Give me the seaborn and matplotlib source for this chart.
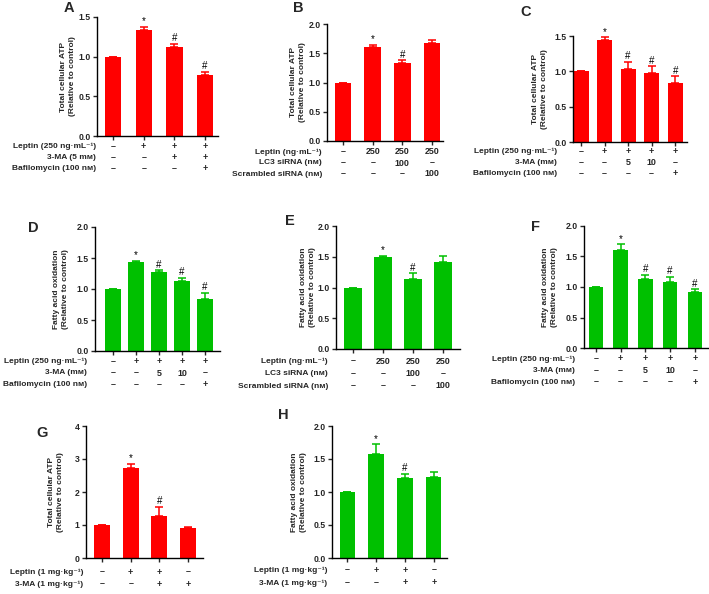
import matplotlib
matplotlib.use("Agg")
import matplotlib.pyplot as plt
import seaborn as sns
import numpy as np
import pandas as pd

sns.set_style("ticks")
plt.rcParams["font.family"] = ["Liberation Sans", "DejaVu Sans"]
plt.rcParams["font.weight"] = "bold"

# ---------------- data ----------------
RED = "#FF0000"
GREEN = "#00C000"
ATP_LABEL = "Total cellular ATP\n(Relative to control)"
FAO_LABEL = "Fatty acid oxidation\n(Relative to control)"

a_vals = [1.00, 1.34, 1.12, 0.77]
a_errs = [0.00, 0.04, 0.04, 0.04]
a_marks = ["", "*", "#", "#"]
a_rows = ["Leptin (250 ng·mL⁻¹)", "3-MA (5 mм)", "Bafilomycin (100 nм)"]
a_cells = [["–", "+", "+", "+"], ["–", "–", "+", "+"], ["–", "–", "–", "+"]]

b_vals = [1.00, 1.61, 1.33, 1.67]
b_errs = [0.00, 0.03, 0.05, 0.05]
b_marks = ["", "*", "#", ""]
b_rows = ["Leptin (ng·mL⁻¹)", "LC3 siRNA (nм)", "Scrambled siRNA (nм)"]
b_cells = [["–", "250", "250", "250"], ["–", "–", "100", "–"], ["–", "–", "–", "100"]]

c_vals = [1.00, 1.45, 1.04, 0.97, 0.84]
c_errs = [0.00, 0.03, 0.09, 0.10, 0.09]
c_marks = ["", "*", "#", "#", "#"]
c_rows = ["Leptin (250 ng·mL⁻¹)", "3-MA (mм)", "Bafilomycin (100 nм)"]
c_cells = [["–", "+", "+", "+", "+"], ["–", "–", "5", "10", "–"], ["–", "–", "–", "–", "+"]]

d_vals = [1.00, 1.43, 1.28, 1.13, 0.84]
d_errs = [0.00, 0.02, 0.02, 0.05, 0.10]
d_marks = ["", "*", "#", "#", "#"]
d_rows = ["Leptin (250 ng·mL⁻¹)", "3-MA (mм)", "Bafilomycin (100 nм)"]
d_cells = [["–", "+", "+", "+", "+"], ["–", "–", "5", "10", "–"], ["–", "–", "–", "–", "+"]]

e_vals = [1.00, 1.49, 1.14, 1.42]
e_errs = [0.00, 0.03, 0.09, 0.10]
e_marks = ["", "*", "#", ""]
e_rows = ["Leptin (ng·mL⁻¹)", "LC3 siRNA (nм)", "Scrambled siRNA (nм)"]
e_cells = [["–", "250", "250", "250"], ["–", "–", "100", "–"], ["–", "–", "–", "100"]]

f_vals = [1.00, 1.60, 1.13, 1.09, 0.91]
f_errs = [0.00, 0.10, 0.07, 0.08, 0.05]
f_marks = ["", "*", "#", "#", "#"]
f_rows = ["Leptin (250 ng·mL⁻¹)", "3-MA (mм)", "Bafilomycin (100 nм)"]
f_cells = [["–", "+", "+", "+", "+"], ["–", "–", "5", "10", "–"], ["–", "–", "–", "–", "+"]]

g_vals = [1.00, 2.73, 1.27, 0.92]
g_errs = [0.00, 0.13, 0.27, 0.02]
g_marks = ["", "*", "#", ""]
g_rows = ["Leptin (1 mg·kg⁻¹)", "3-MA (1 mg·kg⁻¹)"]
g_cells = [["–", "+", "+", "–"], ["–", "–", "+", "+"]]

h_vals = [1.00, 1.58, 1.21, 1.23]
h_errs = [0.00, 0.14, 0.07, 0.07]
h_marks = ["", "*", "#", ""]
h_rows = ["Leptin (1 mg·kg⁻¹)", "3-MA (1 mg·kg⁻¹)"]
h_cells = [["–", "+", "+", "–"], ["–", "–", "+", "+"]]

# ---------------- layout ----------------
W, H = 709, 594
fig = plt.figure(figsize=(W / 100, H / 100), dpi=100)

FS_TICK = 6.2
FS_ROW = 6.0
FS_CELL = 6.4
FS_YLAB = 6.0
FS_LETTER = 10.5


def panel(letter, vals, errs, marks, rows, cells, color, ylabel, ymax, ystep,
          box, xlim, width, letter_xy, ylab_dx, row_dy, row_gap, label_right, int_ticks=False):
    left, right, top, bottom = box
    ax = fig.add_axes([left / W, 1 - bottom / H, (right - left) / W, (bottom - top) / H])
    n = len(vals)
    df = pd.DataFrame({"grp": [str(i) for i in range(n)], "val": vals})
    sns.barplot(data=df, x="grp", y="val", color=color, width=width, errorbar=None,
                saturation=1, ax=ax, linewidth=0)
    idx = np.arange(n)
    errs = np.asarray(errs)
    ax.errorbar(idx, vals, yerr=[np.zeros(n), errs], fmt="none", ecolor=color,
                elinewidth=1.1, capsize=3.2, capthick=1.1)
    for i in range(n):
        if marks[i]:
            ax.annotate(marks[i], xy=(i, vals[i] + errs[i]), xytext=(0, 0.5),
                        textcoords="offset points", ha="center", va="bottom",
                        fontsize=7, fontweight="normal", color="black")
    ax.set_xlim(*xlim)
    ax.set_ylim(0, ymax)
    ticks = np.arange(0, ymax + 1e-9, ystep)
    ax.set_yticks(ticks)
    if int_ticks:
        ax.set_yticklabels([f"{t:.0f}" for t in ticks])
    else:
        ax.set_yticklabels([f"{t:.1f}" for t in ticks])
    ax.set_xticks(idx)
    ax.set_xticklabels([])
    ax.set_xlabel("")
    ax.set_ylabel("")
    for s in ["top", "right"]:
        ax.spines[s].set_visible(False)
    for s in ["left", "bottom"]:
        ax.spines[s].set_linewidth(1.0)
        ax.spines[s].set_color("black")
    ax.tick_params(axis="both", direction="out", length=3, width=1.0, labelsize=FS_TICK, pad=1.5)
    for t in ax.get_yticklabels():
        t.set_fontweight("bold")
    # rows of treatments
    for r, (rlabel, rcells) in enumerate(zip(rows, cells)):
        dy = row_dy + r * row_gap
        fig.text(label_right / W, 1 - (bottom + dy) / H, rlabel, ha="right", va="center",
                 fontsize=FS_ROW, fontweight="bold")
        for i, c in enumerate(rcells):
            ax.annotate(c, xy=(i, 0), xycoords=("data", "axes fraction"),
                        xytext=(0, -dy * 0.72), textcoords="offset points",
                        ha="center", va="center", fontsize=FS_CELL, fontweight="bold")
    # y label
    fig.text((left - ylab_dx) / W, 1 - ((top + bottom) / 2) / H, ylabel, rotation=90,
             ha="center", va="center", multialignment="center", fontsize=FS_YLAB,
             fontweight="bold", linespacing=1.4)
    fig.text(letter_xy[0] / W, 1 - letter_xy[1] / H, letter, ha="center", va="center",
             fontsize=FS_LETTER, fontweight="bold")
    return ax


panel("A", a_vals, a_errs, a_marks, a_rows, a_cells, RED, ATP_LABEL, 1.5, 0.5,
      (97, 218, 17, 136), (-0.52, 3.42), 0.53, (69, 8), 29, 10.5, 11, 96)
panel("B", b_vals, b_errs, b_marks, b_rows, b_cells, RED, ATP_LABEL, 2.0, 0.5,
      (327, 443, 24, 141), (-0.54, 3.37), 0.56, (298, 8), 29, 11, 11, 322)
panel("C", c_vals, c_errs, c_marks, c_rows, c_cells, RED, ATP_LABEL, 1.5, 0.5,
      (573, 687, 36, 142), (-0.34, 4.5), 0.64, (526, 12), 33, 9.5, 11, 557)
panel("D", d_vals, d_errs, d_marks, d_rows, d_cells, GREEN, FAO_LABEL, 2.0, 0.5,
      (95, 220, 227, 351), (-0.78, 4.65), 0.66, (33, 228), 34, 10.5, 11.5, 87)
panel("E", e_vals, e_errs, e_marks, e_rows, e_cells, GREEN, FAO_LABEL, 2.0, 0.5,
      (336, 460, 226, 349), (-0.57, 3.57), 0.59, (290, 221), 28, 12, 12.5, 328)
panel("F", f_vals, f_errs, f_marks, f_rows, f_cells, GREEN, FAO_LABEL, 2.0, 0.5,
      (584, 708, 226, 348), (-0.48, 4.53), 0.58, (535, 227), 34, 11, 11.5, 575)
panel("G", g_vals, g_errs, g_marks, g_rows, g_cells, RED, ATP_LABEL, 4, 1,
      (86, 203, 426, 558), (-0.56, 3.52), 0.56, (42, 433), 30, 14, 12, 83, int_ticks=True)
panel("H", h_vals, h_errs, h_marks, h_rows, h_cells, GREEN, FAO_LABEL, 2.0, 0.5,
      (332, 447, 426, 558), (-0.52, 3.45), 0.52, (283, 415), 33, 12, 13, 327)

fig.savefig("out.png", dpi=100, facecolor="white")
